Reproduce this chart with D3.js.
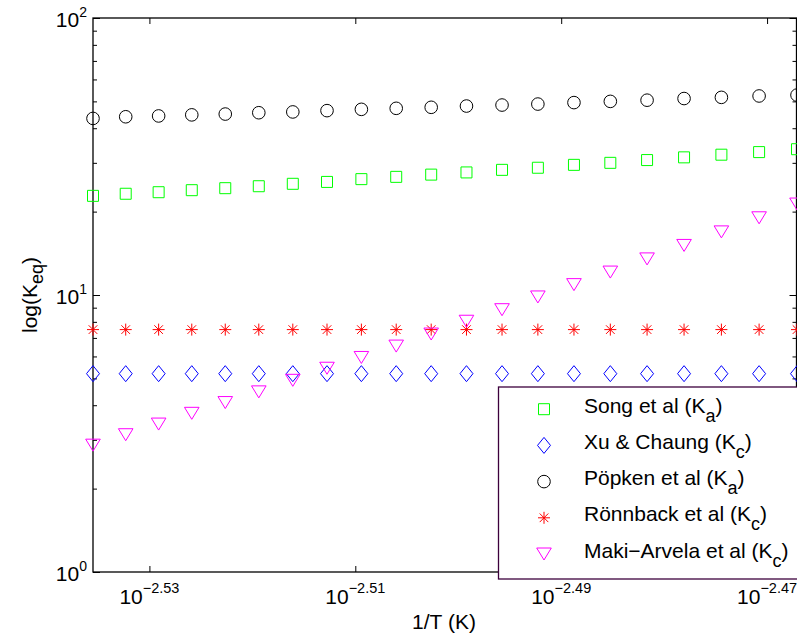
<!DOCTYPE html>
<html>
<head>
<meta charset="utf-8">
<script src="https://cdn.jsdelivr.net/npm/d3@7"></script>
<style>
  body { margin: 0; background: #fff; }
  svg text { font-family: "Liberation Sans", Arial, Helvetica, sans-serif; fill: #000; }
</style>
</head>
<body>
<div class="canvas"></div>
<script>
// 1/T values (K^-1), 343.15 K down to 293.15 K
const invT = [0.0029142, 0.0029356, 0.0029573, 0.0029793, 0.0030017, 0.0030243, 0.0030474,
  0.0030708, 0.0030945, 0.0031187, 0.0031432, 0.0031681, 0.0031934, 0.0032191,
  0.0032452, 0.0032717, 0.0032987, 0.0033261, 0.0033540, 0.0033824, 0.0034112];

const song = [22.8, 23.2, 23.5, 23.9, 24.3, 24.7, 25.2, 25.6, 26.2, 26.7, 27.2,
  27.7, 28.3, 28.8, 29.5, 30.0, 30.7, 31.4, 32.1, 32.8, 33.6];
const xu = [5.2, 5.2, 5.2, 5.2, 5.2, 5.2, 5.2, 5.2, 5.2, 5.2, 5.2,
  5.2, 5.2, 5.2, 5.2, 5.2, 5.2, 5.2, 5.2, 5.2, 5.2];
const popken = [43.4, 44.0, 44.3, 44.7, 45.0, 45.5, 45.8, 46.3, 46.8, 47.2, 47.6,
  48.1, 48.5, 48.9, 49.5, 50.0, 50.5, 51.2, 51.7, 52.3, 52.7];
const ronnback = [7.5, 7.5, 7.5, 7.5, 7.5, 7.5, 7.5, 7.5, 7.5, 7.5, 7.5,
  7.5, 7.5, 7.5, 7.5, 7.5, 7.5, 7.5, 7.5, 7.5, 7.5];
const maki = [2.87, 3.13, 3.42, 3.74, 4.09, 4.47, 4.92, 5.44, 5.95, 6.54, 7.23,
  8.04, 8.85, 9.84, 10.9, 12.1, 13.5, 15.1, 16.9, 19.0, 21.3];

// tick labels
const xTickExp = [-2.53, -2.51, -2.49, -2.47];
const yTickExp = [0, 1, 2];
const yMinor = [2, 3, 4, 5, 6, 7, 8, 9, 20, 30, 40, 50, 60, 70, 80, 90];

// legend
const names = ['Song et al (K', 'Xu & Chaung (K', 'Pöpken et al (K', 'Rönnback et al (K', 'Maki\u2212Arvela et al (K'];
const subs = ['a', 'c', 'a', 'c', 'c'];

const width = 797, height = 639;
const plot = { left: 93, top: 18, right: 797, bottom: 572 };

const svg = d3.select('.canvas')
  .append('svg')
  .attr('width', width)
  .attr('height', height);

const x = d3.scaleLog()
  .domain(d3.extent(invT))
  .range([plot.left, plot.right]);

const y = d3.scaleLog()
  .domain([1, 100])
  .range([plot.bottom, plot.top]);

// marker shapes (MATLAB style)
const shapes = {
  square: 'M-5.5,-5.5h11v11h-11Z',
  diamond: 'M0,-8L6.5,0L0,8L-6.5,0Z',
  circle: d3.arc()({ innerRadius: 0, outerRadius: 6.3, startAngle: 0, endAngle: 2 * Math.PI }),
  star: 'M0,-6V6M-6,0H6M-4.3,-4.3L4.3,4.3M-4.3,4.3L4.3,-4.3',
  tri: 'M-7.3,-6H7.3L0,6Z'
};

const series = [
  { values: song, shape: 'square', colour: '#00ff00' },
  { values: xu, shape: 'diamond', colour: '#0000ff' },
  { values: popken, shape: 'circle', colour: '#000000' },
  { values: ronnback, shape: 'star', colour: '#ff0000' },
  { values: maki, shape: 'tri', colour: '#ff00ff' }
];

// axes
const yTicks = yTickExp.map(e => Math.pow(10, e));
const xTicks = xTickExp.map(e => Math.pow(10, e));

const axisStyle = g => {
  g.select('.domain').remove();
  g.selectAll('line').attr('stroke', '#000').attr('stroke-width', 1);
};

// left
svg.append('g')
  .attr('transform', `translate(${plot.left},0)`)
  .call(d3.axisLeft(y).tickValues(yTicks.concat(yMinor)).tickSizeInner(-4).tickSizeOuter(0).tickFormat(''))
  .call(axisStyle)
  .call(g => g.selectAll('.tick').filter(d => yTicks.includes(d)).select('line').attr('x2', 7));

// right
svg.append('g')
  .attr('transform', `translate(${plot.right - 0.5},0)`)
  .call(d3.axisRight(y).tickValues(yTicks.concat(yMinor)).tickSizeInner(-4).tickSizeOuter(0).tickFormat(''))
  .call(axisStyle)
  .call(g => g.selectAll('.tick').filter(d => yTicks.includes(d)).select('line').attr('x2', -7));

// bottom
svg.append('g')
  .attr('transform', `translate(0,${plot.bottom})`)
  .call(d3.axisBottom(x).tickValues(xTicks).tickSizeInner(-6).tickSizeOuter(0).tickFormat(''))
  .call(axisStyle);

// top
svg.append('g')
  .attr('transform', `translate(0,${plot.top})`)
  .call(d3.axisTop(x).tickValues(xTicks).tickSizeInner(-6).tickSizeOuter(0).tickFormat(''))
  .call(axisStyle);

// box
svg.append('rect')
  .attr('x', plot.left)
  .attr('y', plot.top)
  .attr('width', plot.right - plot.left - 0.5)
  .attr('height', plot.bottom - plot.top)
  .attr('fill', 'none')
  .attr('stroke', '#000')
  .attr('stroke-width', 1.3);

// tick labels
const yLab = svg.append('g').selectAll('text')
  .data(yTickExp)
  .enter().append('text')
    .attr('x', plot.left - 6)
    .attr('y', d => y(Math.pow(10, d)) + 9)
    .attr('text-anchor', 'end')
    .attr('font-size', 21);
yLab.append('tspan').text('10');
yLab.append('tspan').attr('font-size', 14).attr('dy', -10).text(d => d);

const xLab = svg.append('g').selectAll('text')
  .data(xTickExp)
  .enter().append('text')
    .attr('x', d => x(Math.pow(10, d)))
    .attr('y', 604)
    .attr('text-anchor', 'middle')
    .attr('font-size', 21);
xLab.append('tspan').text('10');
xLab.append('tspan').attr('font-size', 14.5).attr('dy', -11).text(d => '\u2212' + Math.abs(d).toFixed(2));

// axis titles
svg.append('text')
  .attr('x', (plot.left + plot.right) / 2 - 1)
  .attr('y', 629)
  .attr('text-anchor', 'middle')
  .attr('font-size', 21)
  .text('1/T (K)');

const yTitle = svg.append('text')
  .attr('transform', `translate(37,${(plot.top + plot.bottom) / 2}) rotate(-90)`)
  .attr('text-anchor', 'middle')
  .attr('font-size', 21);
yTitle.append('tspan').text('log(K');
yTitle.append('tspan').attr('font-size', 18).attr('dy', 6).text('eq');
yTitle.append('tspan').attr('dy', -6).text(')');

// markers
const graph = svg.append('g');
series.forEach(s => {
  graph.append('g').selectAll('path')
    .data(s.values)
    .enter().append('path')
      .attr('transform', (d, i) => `translate(${x(invT[i])},${y(d)})`)
      .attr('d', shapes[s.shape])
      .attr('fill', 'none')
      .attr('stroke', s.colour)
      .attr('stroke-width', 1);
});

// legend
const legend = svg.append('g');
legend.append('rect')
  .attr('x', 498.5)
  .attr('y', 387)
  .attr('width', 320)
  .attr('height', 192)
  .attr('fill', '#fff')
  .attr('stroke', '#3c003c')
  .attr('stroke-width', 1.3);

const rows = legend.selectAll('g.row')
  .data(series)
  .enter().append('g')
    .attr('class', 'row')
    .attr('transform', (d, i) => `translate(0,${412.7 + i * 36.2})`);

rows.append('path')
  .attr('transform', 'translate(544,-3.5)')
  .attr('d', d => shapes[d.shape])
  .attr('fill', 'none')
  .attr('stroke', d => d.colour)
  .attr('stroke-width', 1);

const rowText = rows.append('text')
  .attr('x', 584)
  .attr('y', 0)
  .attr('font-size', 21);
rowText.append('tspan').text((d, i) => names[i]);
rowText.append('tspan').attr('font-size', 18).attr('dy', 9).text((d, i) => subs[i]);
rowText.append('tspan').attr('dy', -9).text(')');
</script>
</body>
</html>
